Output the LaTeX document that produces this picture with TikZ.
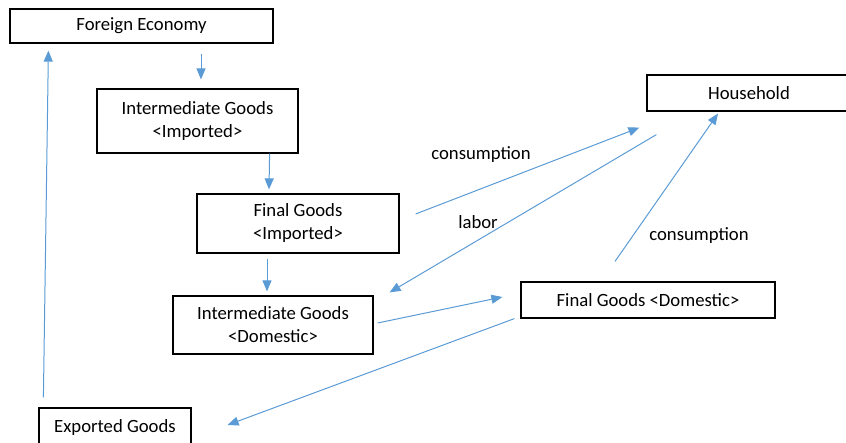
\documentclass[tikz,border=0pt]{standalone}
\usepackage{fontspec}
\setmainfont{Carlito}
\usetikzlibrary{arrows.meta}
\definecolor{flowblue}{HTML}{5B9BD5}

\begin{document}
\begin{tikzpicture}[x=1pt,y=-1pt,
    box/.style={draw,line width=1.2pt,inner sep=0pt,align=center,
        font=\fontsize{18.7}{23}\selectfont},
    lbl/.style={inner sep=0pt,font=\fontsize{18.7}{23}\selectfont},
    flow/.style={flowblue,line width=1pt,-{Triangle[length=11pt,width=9pt]}}]
    \useasboundingbox (0,0) rectangle (846,442);

    % Sectors
    \node at (141.5,26) [box,minimum width=263,minimum height=34] (foreign) {Foreign Economy};
    \node at (197.5,121) [box,minimum width=201,minimum height=64] (intimp) {Intermediate Goods\\<Imported>};
    \node at (298,223.5) [box,minimum width=202,minimum height=59] (finimp) {Final Goods\\<Imported>};
    \node at (273,325) [box,minimum width=200,minimum height=58] (intdom) {Intermediate Goods\\<Domestic>};
    \node at (749,93) [box,minimum width=204,minimum height=36] (household) {Household};
    \node at (648,300) [box,minimum width=254,minimum height=36] (findom) {Final Goods <Domestic>};
    \node at (115,427.5) [box,minimum width=152,minimum height=39] (exported) {Exported Goods};

    % Flow labels
    \node at (481,155) [lbl] (cons1) {consumption};
    \node at (478,222) [lbl] (labor) {labor};
    \node at (699,236) [lbl] (cons2) {consumption};

    % Goods flows
    \draw[flow] ([shift={(5,-10)}]exported.north west) to ([shift={(39,7)}]foreign.south west);
    \draw[flow] ([shift={(59.5,10)}]foreign.south) to ([shift={(3.5,-9)}]intimp.north);
    \draw[flow] ([shift={(-29,0)}]intimp.south east) to ([shift={(-29,-4)}]finimp.north);
    \draw[flow] ([shift={(-31,5)}]finimp.south) to ([shift={(-6,-4)}]intdom.north);
    \draw[flow] ([shift={(4,-2)}]intdom.east) to ([shift={(-18,-3)}]findom.west);
    \draw[flow] ([shift={(-6,0)}]findom.south west) to ([shift={(36,-2.5)}]exported.east);

    % Household flows
    \draw[flow] ([shift={(16,-9.5)}]finimp.east) to ([shift={(-7,16)}]household.south west);
    \draw[flow] ([shift={(10,23)}]household.south west) to ([shift={(16,-3)}]intdom.north east);
    \draw[flow] ([shift={(-33,-20)}]findom.north) to ([shift={(-31,2)}]household.south);
\end{tikzpicture}
\end{document}
